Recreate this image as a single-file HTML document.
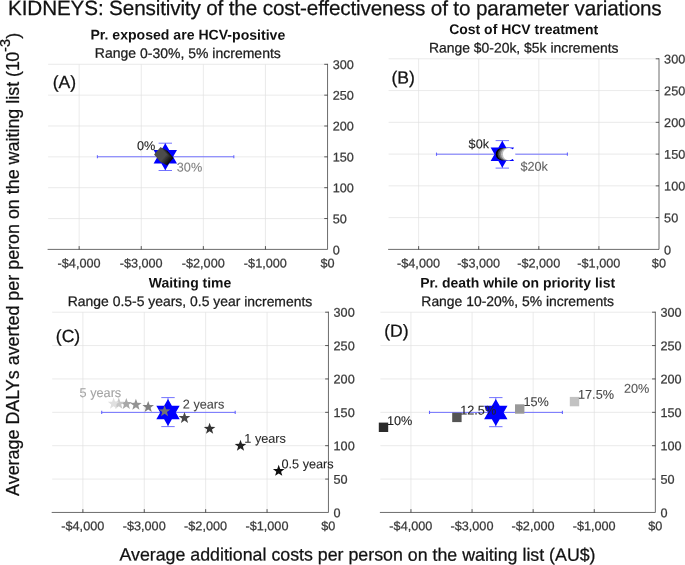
<!DOCTYPE html>
<html lang="en">
<head>
<meta charset="utf-8">
<title>KIDNEYS: Sensitivity of the cost-effectiveness to parameter variations</title>
<style>
html,body{margin:0;padding:0;background:#fff;}
body{width:685px;height:565px;overflow:hidden;font-family:"Liberation Sans", sans-serif;}
svg{display:block;}
text{white-space:pre;paint-order:stroke;stroke-linejoin:round;}
.h{stroke:#111;stroke-width:0.25px;}
.s{stroke-width:0.25px;}
</style>
</head>
<body>
<svg width="685" height="565" viewBox="0 0 685 565" font-family='"Liberation Sans", sans-serif'>
<rect width="685" height="565" fill="#fff"/>
<text transform="translate(8.1 14.95) matrix(1 0.0005 0 1 0 0)" font-size="20.7" textLength="653.6" lengthAdjust="spacing" fill="#111" class="h">KIDNEYS: Sensitivity of the cost-effectiveness of to parameter variations</text>
<text transform="translate(357.5 560.6) matrix(1 0.0005 0 1 0 0)" text-anchor="middle" font-size="17.79" fill="#111" class="h">Average additional costs per person on the waiting list (AU$)</text>
<text transform="translate(18.8 495.9) rotate(-90)" font-size="17.9" fill="#111" class="h">Average DALYs averted per peron on the waiting list (1<tspan dx="-0.8">0</tspan><tspan font-size="14.5" dy="-9.1" dx="-0.1">-</tspan><tspan font-size="14.5" dx="0.2">3</tspan><tspan dy="9.1">)</tspan></text>
<g>
<line x1="79.15" y1="64.30" x2="79.15" y2="249.40" stroke="#e1e1e1" stroke-width="0.7"/>
<line x1="141.25" y1="64.30" x2="141.25" y2="249.40" stroke="#e1e1e1" stroke-width="0.7"/>
<line x1="203.35" y1="64.30" x2="203.35" y2="249.40" stroke="#e1e1e1" stroke-width="0.7"/>
<line x1="265.45" y1="64.30" x2="265.45" y2="249.40" stroke="#e1e1e1" stroke-width="0.7"/>
<line x1="48.10" y1="218.55" x2="327.55" y2="218.55" stroke="#e1e1e1" stroke-width="0.7"/>
<line x1="48.10" y1="187.70" x2="327.55" y2="187.70" stroke="#e1e1e1" stroke-width="0.7"/>
<line x1="48.10" y1="156.85" x2="327.55" y2="156.85" stroke="#e1e1e1" stroke-width="0.7"/>
<line x1="48.10" y1="126.00" x2="327.55" y2="126.00" stroke="#e1e1e1" stroke-width="0.7"/>
<line x1="48.10" y1="95.15" x2="327.55" y2="95.15" stroke="#e1e1e1" stroke-width="0.7"/>
<line x1="48.10" y1="64.30" x2="327.55" y2="64.30" stroke="#e1e1e1" stroke-width="0.7"/>
<line x1="79.15" y1="249.40" x2="79.15" y2="246.10" stroke="#262626" stroke-width="0.75"/>
<line x1="141.25" y1="249.40" x2="141.25" y2="246.10" stroke="#262626" stroke-width="0.75"/>
<line x1="203.35" y1="249.40" x2="203.35" y2="246.10" stroke="#262626" stroke-width="0.75"/>
<line x1="265.45" y1="249.40" x2="265.45" y2="246.10" stroke="#262626" stroke-width="0.75"/>
<line x1="327.55" y1="218.55" x2="324.25" y2="218.55" stroke="#262626" stroke-width="0.75"/>
<line x1="327.55" y1="187.70" x2="324.25" y2="187.70" stroke="#262626" stroke-width="0.75"/>
<line x1="327.55" y1="156.85" x2="324.25" y2="156.85" stroke="#262626" stroke-width="0.75"/>
<line x1="327.55" y1="126.00" x2="324.25" y2="126.00" stroke="#262626" stroke-width="0.75"/>
<line x1="327.55" y1="95.15" x2="324.25" y2="95.15" stroke="#262626" stroke-width="0.75"/>
<line x1="327.55" y1="64.30" x2="324.25" y2="64.30" stroke="#262626" stroke-width="0.75"/>
<path d="M48.10 249.40H327.55V64.30" fill="none" stroke="#262626" stroke-width="0.68" stroke-linecap="square"/>
<text transform="translate(79.05 267.60) matrix(1 0.0005 0 1 0 0)" text-anchor="middle" font-size="12.68" fill="#383838" stroke="#383838" class="s">-$4,000</text>
<text transform="translate(141.15 267.60) matrix(1 0.0005 0 1 0 0)" text-anchor="middle" font-size="12.68" fill="#383838" stroke="#383838" class="s">-$3,000</text>
<text transform="translate(203.25 267.60) matrix(1 0.0005 0 1 0 0)" text-anchor="middle" font-size="12.68" fill="#383838" stroke="#383838" class="s">-$2,000</text>
<text transform="translate(265.35 267.60) matrix(1 0.0005 0 1 0 0)" text-anchor="middle" font-size="12.68" fill="#383838" stroke="#383838" class="s">-$1,000</text>
<text transform="translate(327.45 267.60) matrix(1 0.0005 0 1 0 0)" text-anchor="middle" font-size="12.68" fill="#383838" stroke="#383838" class="s">$0</text>
<text transform="translate(332.65 254.50) matrix(1 0.0005 0 1 0 0)" font-size="12.68" fill="#383838" stroke="#383838" class="s">0</text>
<text transform="translate(332.65 223.15) matrix(1 0.0005 0 1 0 0)" font-size="12.68" fill="#383838" stroke="#383838" class="s">50</text>
<text transform="translate(332.65 192.30) matrix(1 0.0005 0 1 0 0)" font-size="12.68" fill="#383838" stroke="#383838" class="s">100</text>
<text transform="translate(332.65 161.45) matrix(1 0.0005 0 1 0 0)" font-size="12.68" fill="#383838" stroke="#383838" class="s">150</text>
<text transform="translate(332.65 130.60) matrix(1 0.0005 0 1 0 0)" font-size="12.68" fill="#383838" stroke="#383838" class="s">200</text>
<text transform="translate(332.65 99.75) matrix(1 0.0005 0 1 0 0)" font-size="12.68" fill="#383838" stroke="#383838" class="s">250</text>
<text transform="translate(332.65 68.90) matrix(1 0.0005 0 1 0 0)" font-size="12.68" fill="#383838" stroke="#383838" class="s">300</text>
<text transform="translate(187.83 39.60) matrix(1 0.0005 0 1 0 0)" text-anchor="middle" font-size="14.08" font-weight="bold" fill="#111">Pr. exposed are HCV-positive</text>
<text transform="translate(187.83 57.90) matrix(1 0.0005 0 1 0 0)" text-anchor="middle" font-size="14.0" fill="#1a1a1a" class="s" stroke="#1a1a1a">Range 0-30%, 5% increments</text>
<text transform="translate(52.70 88.10) matrix(1 0.0005 0 1 0 0)" font-size="17.6" fill="#111" class="h">(A)</text>
</g>
<g>
<line x1="418.64" y1="58.80" x2="418.64" y2="249.40" stroke="#e1e1e1" stroke-width="0.7"/>
<line x1="478.73" y1="58.80" x2="478.73" y2="249.40" stroke="#e1e1e1" stroke-width="0.7"/>
<line x1="538.82" y1="58.80" x2="538.82" y2="249.40" stroke="#e1e1e1" stroke-width="0.7"/>
<line x1="598.91" y1="58.80" x2="598.91" y2="249.40" stroke="#e1e1e1" stroke-width="0.7"/>
<line x1="388.60" y1="217.63" x2="659.00" y2="217.63" stroke="#e1e1e1" stroke-width="0.7"/>
<line x1="388.60" y1="185.87" x2="659.00" y2="185.87" stroke="#e1e1e1" stroke-width="0.7"/>
<line x1="388.60" y1="154.10" x2="659.00" y2="154.10" stroke="#e1e1e1" stroke-width="0.7"/>
<line x1="388.60" y1="122.33" x2="659.00" y2="122.33" stroke="#e1e1e1" stroke-width="0.7"/>
<line x1="388.60" y1="90.57" x2="659.00" y2="90.57" stroke="#e1e1e1" stroke-width="0.7"/>
<line x1="388.60" y1="58.80" x2="659.00" y2="58.80" stroke="#e1e1e1" stroke-width="0.7"/>
<line x1="418.64" y1="249.40" x2="418.64" y2="246.10" stroke="#262626" stroke-width="0.75"/>
<line x1="478.73" y1="249.40" x2="478.73" y2="246.10" stroke="#262626" stroke-width="0.75"/>
<line x1="538.82" y1="249.40" x2="538.82" y2="246.10" stroke="#262626" stroke-width="0.75"/>
<line x1="598.91" y1="249.40" x2="598.91" y2="246.10" stroke="#262626" stroke-width="0.75"/>
<line x1="659.00" y1="217.63" x2="655.70" y2="217.63" stroke="#262626" stroke-width="0.75"/>
<line x1="659.00" y1="185.87" x2="655.70" y2="185.87" stroke="#262626" stroke-width="0.75"/>
<line x1="659.00" y1="154.10" x2="655.70" y2="154.10" stroke="#262626" stroke-width="0.75"/>
<line x1="659.00" y1="122.33" x2="655.70" y2="122.33" stroke="#262626" stroke-width="0.75"/>
<line x1="659.00" y1="90.57" x2="655.70" y2="90.57" stroke="#262626" stroke-width="0.75"/>
<line x1="659.00" y1="58.80" x2="655.70" y2="58.80" stroke="#262626" stroke-width="0.75"/>
<path d="M388.60 249.40H659.00V58.80" fill="none" stroke="#262626" stroke-width="0.68" stroke-linecap="square"/>
<text transform="translate(418.54 267.60) matrix(1 0.0005 0 1 0 0)" text-anchor="middle" font-size="12.68" fill="#383838" stroke="#383838" class="s">-$4,000</text>
<text transform="translate(478.63 267.60) matrix(1 0.0005 0 1 0 0)" text-anchor="middle" font-size="12.68" fill="#383838" stroke="#383838" class="s">-$3,000</text>
<text transform="translate(538.72 267.60) matrix(1 0.0005 0 1 0 0)" text-anchor="middle" font-size="12.68" fill="#383838" stroke="#383838" class="s">-$2,000</text>
<text transform="translate(598.81 267.60) matrix(1 0.0005 0 1 0 0)" text-anchor="middle" font-size="12.68" fill="#383838" stroke="#383838" class="s">-$1,000</text>
<text transform="translate(658.90 267.60) matrix(1 0.0005 0 1 0 0)" text-anchor="middle" font-size="12.68" fill="#383838" stroke="#383838" class="s">$0</text>
<text transform="translate(664.10 254.50) matrix(1 0.0005 0 1 0 0)" font-size="12.68" fill="#383838" stroke="#383838" class="s">0</text>
<text transform="translate(664.10 222.23) matrix(1 0.0005 0 1 0 0)" font-size="12.68" fill="#383838" stroke="#383838" class="s">50</text>
<text transform="translate(664.10 190.47) matrix(1 0.0005 0 1 0 0)" font-size="12.68" fill="#383838" stroke="#383838" class="s">100</text>
<text transform="translate(664.10 158.70) matrix(1 0.0005 0 1 0 0)" font-size="12.68" fill="#383838" stroke="#383838" class="s">150</text>
<text transform="translate(664.10 126.93) matrix(1 0.0005 0 1 0 0)" font-size="12.68" fill="#383838" stroke="#383838" class="s">200</text>
<text transform="translate(664.10 95.17) matrix(1 0.0005 0 1 0 0)" font-size="12.68" fill="#383838" stroke="#383838" class="s">250</text>
<text transform="translate(664.10 63.40) matrix(1 0.0005 0 1 0 0)" font-size="12.68" fill="#383838" stroke="#383838" class="s">300</text>
<text transform="translate(523.70 34.10) matrix(1 0.0005 0 1 0 0)" text-anchor="middle" font-size="13.98" font-weight="bold" fill="#111">Cost of HCV treatment</text>
<text transform="translate(523.70 52.60) matrix(1 0.0005 0 1 0 0)" text-anchor="middle" font-size="13.93" fill="#1a1a1a" class="s" stroke="#1a1a1a">Range $0-20k, $5k increments</text>
<text transform="translate(391.50 83.40) matrix(1 0.0005 0 1 0 0)" font-size="17.6" fill="#111" class="h">(B)</text>
</g>
<g>
<line x1="82.89" y1="312.20" x2="82.89" y2="512.45" stroke="#e1e1e1" stroke-width="0.7"/>
<line x1="144.28" y1="312.20" x2="144.28" y2="512.45" stroke="#e1e1e1" stroke-width="0.7"/>
<line x1="205.67" y1="312.20" x2="205.67" y2="512.45" stroke="#e1e1e1" stroke-width="0.7"/>
<line x1="267.06" y1="312.20" x2="267.06" y2="512.45" stroke="#e1e1e1" stroke-width="0.7"/>
<line x1="52.20" y1="479.08" x2="328.45" y2="479.08" stroke="#e1e1e1" stroke-width="0.7"/>
<line x1="52.20" y1="445.70" x2="328.45" y2="445.70" stroke="#e1e1e1" stroke-width="0.7"/>
<line x1="52.20" y1="412.33" x2="328.45" y2="412.33" stroke="#e1e1e1" stroke-width="0.7"/>
<line x1="52.20" y1="378.95" x2="328.45" y2="378.95" stroke="#e1e1e1" stroke-width="0.7"/>
<line x1="52.20" y1="345.57" x2="328.45" y2="345.57" stroke="#e1e1e1" stroke-width="0.7"/>
<line x1="52.20" y1="312.20" x2="328.45" y2="312.20" stroke="#e1e1e1" stroke-width="0.7"/>
<line x1="82.89" y1="512.45" x2="82.89" y2="509.15" stroke="#262626" stroke-width="0.75"/>
<line x1="144.28" y1="512.45" x2="144.28" y2="509.15" stroke="#262626" stroke-width="0.75"/>
<line x1="205.67" y1="512.45" x2="205.67" y2="509.15" stroke="#262626" stroke-width="0.75"/>
<line x1="267.06" y1="512.45" x2="267.06" y2="509.15" stroke="#262626" stroke-width="0.75"/>
<line x1="328.45" y1="479.08" x2="325.15" y2="479.08" stroke="#262626" stroke-width="0.75"/>
<line x1="328.45" y1="445.70" x2="325.15" y2="445.70" stroke="#262626" stroke-width="0.75"/>
<line x1="328.45" y1="412.33" x2="325.15" y2="412.33" stroke="#262626" stroke-width="0.75"/>
<line x1="328.45" y1="378.95" x2="325.15" y2="378.95" stroke="#262626" stroke-width="0.75"/>
<line x1="328.45" y1="345.57" x2="325.15" y2="345.57" stroke="#262626" stroke-width="0.75"/>
<line x1="328.45" y1="312.20" x2="325.15" y2="312.20" stroke="#262626" stroke-width="0.75"/>
<path d="M52.20 512.45H328.45V312.20" fill="none" stroke="#262626" stroke-width="0.68" stroke-linecap="square"/>
<text transform="translate(82.79 530.20) matrix(1 0.0005 0 1 0 0)" text-anchor="middle" font-size="12.68" fill="#383838" stroke="#383838" class="s">-$4,000</text>
<text transform="translate(144.18 530.20) matrix(1 0.0005 0 1 0 0)" text-anchor="middle" font-size="12.68" fill="#383838" stroke="#383838" class="s">-$3,000</text>
<text transform="translate(205.57 530.20) matrix(1 0.0005 0 1 0 0)" text-anchor="middle" font-size="12.68" fill="#383838" stroke="#383838" class="s">-$2,000</text>
<text transform="translate(266.96 530.20) matrix(1 0.0005 0 1 0 0)" text-anchor="middle" font-size="12.68" fill="#383838" stroke="#383838" class="s">-$1,000</text>
<text transform="translate(328.35 530.20) matrix(1 0.0005 0 1 0 0)" text-anchor="middle" font-size="12.68" fill="#383838" stroke="#383838" class="s">$0</text>
<text transform="translate(333.55 517.35) matrix(1 0.0005 0 1 0 0)" font-size="12.68" fill="#383838" stroke="#383838" class="s">0</text>
<text transform="translate(333.55 483.68) matrix(1 0.0005 0 1 0 0)" font-size="12.68" fill="#383838" stroke="#383838" class="s">50</text>
<text transform="translate(333.55 450.30) matrix(1 0.0005 0 1 0 0)" font-size="12.68" fill="#383838" stroke="#383838" class="s">100</text>
<text transform="translate(333.55 416.93) matrix(1 0.0005 0 1 0 0)" font-size="12.68" fill="#383838" stroke="#383838" class="s">150</text>
<text transform="translate(333.55 383.55) matrix(1 0.0005 0 1 0 0)" font-size="12.68" fill="#383838" stroke="#383838" class="s">200</text>
<text transform="translate(333.55 350.18) matrix(1 0.0005 0 1 0 0)" font-size="12.68" fill="#383838" stroke="#383838" class="s">250</text>
<text transform="translate(333.55 316.80) matrix(1 0.0005 0 1 0 0)" font-size="12.68" fill="#383838" stroke="#383838" class="s">300</text>
<text transform="translate(190.02 287.50) matrix(1 0.0005 0 1 0 0)" text-anchor="middle" font-size="13.98" font-weight="bold" fill="#111">Waiting time</text>
<text transform="translate(190.02 306.10) matrix(1 0.0005 0 1 0 0)" text-anchor="middle" font-size="13.93" fill="#1a1a1a" class="s" stroke="#1a1a1a">Range 0.5-5 years, 0.5 year increments</text>
<text transform="translate(55.80 341.90) matrix(1 0.0005 0 1 0 0)" font-size="17.6" fill="#111" class="h">(C)</text>
</g>
<g>
<line x1="410.95" y1="312.20" x2="410.95" y2="512.45" stroke="#e1e1e1" stroke-width="0.7"/>
<line x1="472.05" y1="312.20" x2="472.05" y2="512.45" stroke="#e1e1e1" stroke-width="0.7"/>
<line x1="533.15" y1="312.20" x2="533.15" y2="512.45" stroke="#e1e1e1" stroke-width="0.7"/>
<line x1="594.25" y1="312.20" x2="594.25" y2="512.45" stroke="#e1e1e1" stroke-width="0.7"/>
<line x1="380.40" y1="479.08" x2="655.35" y2="479.08" stroke="#e1e1e1" stroke-width="0.7"/>
<line x1="380.40" y1="445.70" x2="655.35" y2="445.70" stroke="#e1e1e1" stroke-width="0.7"/>
<line x1="380.40" y1="412.33" x2="655.35" y2="412.33" stroke="#e1e1e1" stroke-width="0.7"/>
<line x1="380.40" y1="378.95" x2="655.35" y2="378.95" stroke="#e1e1e1" stroke-width="0.7"/>
<line x1="380.40" y1="345.57" x2="655.35" y2="345.57" stroke="#e1e1e1" stroke-width="0.7"/>
<line x1="380.40" y1="312.20" x2="655.35" y2="312.20" stroke="#e1e1e1" stroke-width="0.7"/>
<line x1="410.95" y1="512.45" x2="410.95" y2="509.15" stroke="#262626" stroke-width="0.75"/>
<line x1="472.05" y1="512.45" x2="472.05" y2="509.15" stroke="#262626" stroke-width="0.75"/>
<line x1="533.15" y1="512.45" x2="533.15" y2="509.15" stroke="#262626" stroke-width="0.75"/>
<line x1="594.25" y1="512.45" x2="594.25" y2="509.15" stroke="#262626" stroke-width="0.75"/>
<line x1="655.35" y1="479.08" x2="652.05" y2="479.08" stroke="#262626" stroke-width="0.75"/>
<line x1="655.35" y1="445.70" x2="652.05" y2="445.70" stroke="#262626" stroke-width="0.75"/>
<line x1="655.35" y1="412.33" x2="652.05" y2="412.33" stroke="#262626" stroke-width="0.75"/>
<line x1="655.35" y1="378.95" x2="652.05" y2="378.95" stroke="#262626" stroke-width="0.75"/>
<line x1="655.35" y1="345.57" x2="652.05" y2="345.57" stroke="#262626" stroke-width="0.75"/>
<line x1="655.35" y1="312.20" x2="652.05" y2="312.20" stroke="#262626" stroke-width="0.75"/>
<path d="M380.40 512.45H655.35V312.20" fill="none" stroke="#262626" stroke-width="0.68" stroke-linecap="square"/>
<text transform="translate(410.85 530.20) matrix(1 0.0005 0 1 0 0)" text-anchor="middle" font-size="12.68" fill="#383838" stroke="#383838" class="s">-$4,000</text>
<text transform="translate(471.95 530.20) matrix(1 0.0005 0 1 0 0)" text-anchor="middle" font-size="12.68" fill="#383838" stroke="#383838" class="s">-$3,000</text>
<text transform="translate(533.05 530.20) matrix(1 0.0005 0 1 0 0)" text-anchor="middle" font-size="12.68" fill="#383838" stroke="#383838" class="s">-$2,000</text>
<text transform="translate(594.15 530.20) matrix(1 0.0005 0 1 0 0)" text-anchor="middle" font-size="12.68" fill="#383838" stroke="#383838" class="s">-$1,000</text>
<text transform="translate(655.25 530.20) matrix(1 0.0005 0 1 0 0)" text-anchor="middle" font-size="12.68" fill="#383838" stroke="#383838" class="s">$0</text>
<text transform="translate(660.45 517.35) matrix(1 0.0005 0 1 0 0)" font-size="12.68" fill="#383838" stroke="#383838" class="s">0</text>
<text transform="translate(660.45 483.68) matrix(1 0.0005 0 1 0 0)" font-size="12.68" fill="#383838" stroke="#383838" class="s">50</text>
<text transform="translate(660.45 450.30) matrix(1 0.0005 0 1 0 0)" font-size="12.68" fill="#383838" stroke="#383838" class="s">100</text>
<text transform="translate(660.45 416.93) matrix(1 0.0005 0 1 0 0)" font-size="12.68" fill="#383838" stroke="#383838" class="s">150</text>
<text transform="translate(660.45 383.55) matrix(1 0.0005 0 1 0 0)" font-size="12.68" fill="#383838" stroke="#383838" class="s">200</text>
<text transform="translate(660.45 350.18) matrix(1 0.0005 0 1 0 0)" font-size="12.68" fill="#383838" stroke="#383838" class="s">250</text>
<text transform="translate(660.45 316.80) matrix(1 0.0005 0 1 0 0)" font-size="12.68" fill="#383838" stroke="#383838" class="s">300</text>
<text transform="translate(517.67 287.50) matrix(1 0.0005 0 1 0 0)" text-anchor="middle" font-size="13.98" font-weight="bold" fill="#111">Pr. death while on priority list</text>
<text transform="translate(517.67 306.00) matrix(1 0.0005 0 1 0 0)" text-anchor="middle" font-size="13.93" fill="#1a1a1a" class="s" stroke="#1a1a1a">Range 10-20%, 5% increments</text>
<text transform="translate(384.20 336.70) matrix(1 0.0005 0 1 0 0)" font-size="17.6" fill="#111" class="h">(D)</text>
</g>
<g stroke="#6464ff" stroke-width="0.9" fill="none">
<line x1="97.40" y1="156.75" x2="233.80" y2="156.75"/>
<line x1="97.40" y1="155.15" x2="97.40" y2="158.35" stroke-width="1.1"/>
<line x1="233.80" y1="155.15" x2="233.80" y2="158.35" stroke-width="1.1"/>
<line x1="165.30" y1="143.20" x2="165.30" y2="170.50"/>
<line x1="158.60" y1="143.20" x2="172.00" y2="143.20"/>
<line x1="158.60" y1="170.50" x2="172.00" y2="170.50"/>
</g>
<polygon points="165.30,143.25 169.20,150.00 176.99,150.00 173.09,156.75 176.99,163.50 169.20,163.50 165.30,170.25 161.40,163.50 153.61,163.50 157.51,156.75 153.61,150.00 161.40,150.00" fill="#0000ff"/>
<polygon points="167.00,150.30 173.50,157.90 167.00,165.50 160.50,157.90" fill="#0a0a0a"/>
<polygon points="165.93,149.73 172.43,157.33 165.93,164.93 159.43,157.33" fill="#151515"/>
<polygon points="164.87,149.17 171.37,156.77 164.87,164.37 158.37,156.77" fill="#202020"/>
<polygon points="163.80,148.60 170.30,156.20 163.80,163.80 157.30,156.20" fill="#2b2b2b"/>
<polygon points="162.73,148.03 169.23,155.63 162.73,163.23 156.23,155.63" fill="#363636"/>
<polygon points="161.67,147.47 168.17,155.07 161.67,162.67 155.17,155.07" fill="#414141"/>
<polygon points="160.60,146.90 167.10,154.50 160.60,162.10 154.10,154.50" fill="#4c4c4c"/>
<text transform="translate(137.00 150.10) matrix(1 0.0005 0 1 0 0)" font-size="12.7" fill="#222" stroke="#222" stroke-width="0.1">0%</text>
<text transform="translate(176.80 171.60) matrix(1 0.0005 0 1 0 0)" font-size="12.7" fill="#808080" stroke="#808080" stroke-width="0.1">30%</text>
<g stroke="#6464ff" stroke-width="0.9" fill="none">
<line x1="436.50" y1="154.20" x2="567.40" y2="154.20"/>
<line x1="436.50" y1="152.60" x2="436.50" y2="155.80" stroke-width="1.1"/>
<line x1="567.40" y1="152.60" x2="567.40" y2="155.80" stroke-width="1.1"/>
<line x1="502.30" y1="140.60" x2="502.30" y2="168.10"/>
<line x1="495.60" y1="140.60" x2="509.00" y2="140.60"/>
<line x1="495.60" y1="168.10" x2="509.00" y2="168.10"/>
</g>
<polygon points="502.30,140.70 506.20,147.45 513.99,147.45 510.09,154.20 513.99,160.95 506.20,160.95 502.30,167.70 498.40,160.95 490.61,160.95 494.51,154.20 490.61,147.45 498.40,147.45" fill="#0000ff"/>
<circle cx="502.00" cy="154.2" r="6.2" fill="#000000"/>
<circle cx="503.77" cy="154.2" r="6.2" fill="#404040"/>
<circle cx="505.55" cy="154.2" r="6.2" fill="#808080"/>
<circle cx="507.33" cy="154.2" r="6.2" fill="#bfbfbf"/>
<circle cx="509.10" cy="154.2" r="6.2" fill="#ffffff"/>
<text transform="translate(468.60 148.20) matrix(1 0.0005 0 1 0 0)" font-size="12.7" fill="#222" stroke="#222" stroke-width="0.1">$0k</text>
<text transform="translate(520.40 170.70) matrix(1 0.0005 0 1 0 0)" font-size="12.7" fill="#606060" stroke="#606060" stroke-width="0.1">$20k</text>
<g stroke="#6464ff" stroke-width="0.9" fill="none">
<line x1="101.70" y1="412.40" x2="235.20" y2="412.40"/>
<line x1="101.70" y1="410.80" x2="101.70" y2="414.00" stroke-width="1.1"/>
<line x1="235.20" y1="410.80" x2="235.20" y2="414.00" stroke-width="1.1"/>
<line x1="168.00" y1="397.60" x2="168.00" y2="426.60"/>
<line x1="161.30" y1="397.60" x2="174.70" y2="397.60"/>
<line x1="161.30" y1="426.60" x2="174.70" y2="426.60"/>
</g>
<polygon points="168.00,398.90 171.90,405.65 179.69,405.65 175.79,412.40 179.69,419.15 171.90,419.15 168.00,425.90 164.10,419.15 156.31,419.15 160.21,412.40 156.31,405.65 164.10,405.65" fill="#0000ff"/>
<polygon points="278.70,464.80 280.17,468.88 284.50,469.01 281.08,471.67 282.29,475.84 278.70,473.40 275.11,475.84 276.32,471.67 272.90,469.01 277.23,468.88" fill="#0f0f0f"/>
<polygon points="240.50,439.70 241.97,443.78 246.30,443.91 242.88,446.57 244.09,450.74 240.50,448.30 236.91,450.74 238.12,446.57 234.70,443.91 239.03,443.78" fill="#212121"/>
<polygon points="209.60,422.70 211.07,426.78 215.40,426.91 211.98,429.57 213.19,433.74 209.60,431.30 206.01,433.74 207.22,429.57 203.80,426.91 208.13,426.78" fill="#333333"/>
<polygon points="184.50,411.90 185.97,415.98 190.30,416.11 186.88,418.77 188.09,422.94 184.50,420.50 180.91,422.94 182.12,418.77 178.70,416.11 183.03,415.98" fill="#474747"/>
<polygon points="164.60,405.20 166.07,409.28 170.40,409.41 166.98,412.07 168.19,416.24 164.60,413.80 161.01,416.24 162.22,412.07 158.80,409.41 163.13,409.28" fill="#737373"/>
<polygon points="148.20,400.90 149.67,404.98 154.00,405.11 150.58,407.77 151.79,411.94 148.20,409.50 144.61,411.94 145.82,407.77 142.40,405.11 146.73,404.98" fill="#808080"/>
<polygon points="135.90,398.70 137.37,402.78 141.70,402.91 138.28,405.57 139.49,409.74 135.90,407.30 132.31,409.74 133.52,405.57 130.10,402.91 134.43,402.78" fill="#949494"/>
<polygon points="126.30,397.90 127.77,401.98 132.10,402.11 128.68,404.77 129.89,408.94 126.30,406.50 122.71,408.94 123.92,404.77 120.50,402.11 124.83,401.98" fill="#a8a8a8"/>
<polygon points="118.80,397.60 120.27,401.68 124.60,401.81 121.18,404.47 122.39,408.64 118.80,406.20 115.21,408.64 116.42,404.47 113.00,401.81 117.33,401.68" fill="#c7c7c7"/>
<polygon points="113.60,397.60 115.07,401.68 119.40,401.81 115.98,404.47 117.19,408.64 113.60,406.20 110.01,408.64 111.22,404.47 107.80,401.81 112.13,401.68" fill="#e0e0e0"/>
<text transform="translate(281.50 468.20) matrix(1 0.0005 0 1 0 0)" font-size="12.7" fill="#222" stroke="#222" stroke-width="0.1">0.5 years</text>
<text transform="translate(244.30 442.70) matrix(1 0.0005 0 1 0 0)" font-size="12.7" fill="#2a2a2a" stroke="#2a2a2a" stroke-width="0.1">1 years</text>
<text transform="translate(182.80 408.60) matrix(1 0.0005 0 1 0 0)" font-size="12.7" fill="#444" stroke="#444" stroke-width="0.1">2 years</text>
<text transform="translate(79.60 397.00) matrix(1 0.0005 0 1 0 0)" font-size="12.7" fill="#a2a2a2" stroke="#a2a2a2" stroke-width="0.1">5 years</text>
<g stroke="#6464ff" stroke-width="0.9" fill="none">
<line x1="429.50" y1="412.40" x2="562.40" y2="412.40"/>
<line x1="429.50" y1="410.80" x2="429.50" y2="414.00" stroke-width="1.1"/>
<line x1="562.40" y1="410.80" x2="562.40" y2="414.00" stroke-width="1.1"/>
<line x1="495.80" y1="397.60" x2="495.80" y2="426.70"/>
<line x1="489.10" y1="397.60" x2="502.50" y2="397.60"/>
<line x1="489.10" y1="426.70" x2="502.50" y2="426.70"/>
</g>
<polygon points="495.80,398.90 499.70,405.65 507.49,405.65 503.59,412.40 507.49,419.15 499.70,419.15 495.80,425.90 491.90,419.15 484.11,419.15 488.01,412.40 484.11,405.65 491.90,405.65" fill="#0000ff"/>
<rect x="378.80" y="422.60" width="9.4" height="9.4" fill="#2b2b2b"/>
<rect x="452.20" y="412.70" width="9.4" height="9.4" fill="#545454"/>
<rect x="515.00" y="404.30" width="9.4" height="9.4" fill="#999999"/>
<rect x="569.80" y="396.90" width="9.4" height="9.4" fill="#c2c2c2"/>
<text transform="translate(387.00 425.00) matrix(1 0.0005 0 1 0 0)" font-size="12.7" fill="#222" stroke="#222" stroke-width="0.1">10%</text>
<text transform="translate(460.20 414.60) matrix(1 0.0005 0 1 0 0)" font-size="12.7" fill="#262626" stroke="#262626" stroke-width="0.1">12.5%</text>
<text transform="translate(523.50 406.10) matrix(1 0.0005 0 1 0 0)" font-size="12.7" fill="#3c3c3c" stroke="#3c3c3c" stroke-width="0.1">15%</text>
<text transform="translate(578.00 398.70) matrix(1 0.0005 0 1 0 0)" font-size="12.7" fill="#444" stroke="#444" stroke-width="0.1">17.5%</text>
<text transform="translate(624.00 392.80) matrix(1 0.0005 0 1 0 0)" font-size="12.7" fill="#555" stroke="#555" stroke-width="0.1">20%</text>
</svg>
</body>
</html>
